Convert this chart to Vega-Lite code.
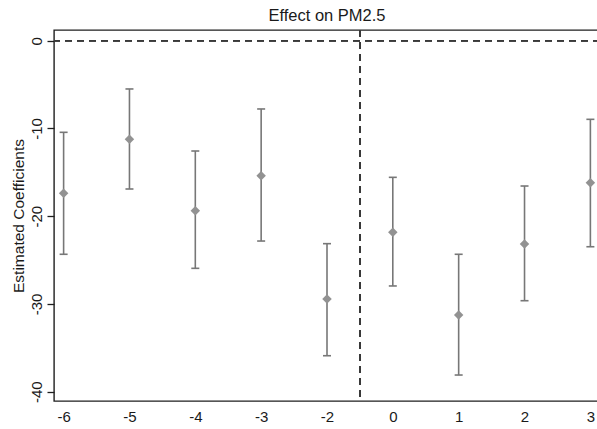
{
  "$schema": "https://vega.github.io/schema/vega-lite/v6.json",
  "autosize": {"type": "none"},
  "padding": {"left": 54, "top": 30, "right": 0, "bottom": 28},
  "width": 546,
  "height": 371,
  "background": "white",
  "config": {
    "font": "Liberation Sans",
    "view": {"stroke": "#1f1f1f", "strokeWidth": 1.4}
  },
  "title": {
    "text": "Effect on PM2.5",
    "fontSize": 16.5,
    "fontWeight": "normal",
    "color": "#1a1a1a",
    "anchor": "middle",
    "baseline": "alphabetic",
    "offset": 10,
    "dy": 18
  },
  "data": {
    "values": [
      {"period": -6, "coef": -17.39, "lo": -24.34, "hi": -10.44},
      {"period": -5, "coef": -11.24, "lo": -16.90, "hi": -5.50},
      {"period": -4, "coef": -19.37, "lo": -25.94, "hi": -12.57},
      {"period": -3, "coef": -15.38, "lo": -22.83, "hi": -7.78},
      {"period": -2, "coef": -29.44, "lo": -35.90, "hi": -23.13},
      {"period": 0, "coef": -21.84, "lo": -27.95, "hi": -15.57},
      {"period": 1, "coef": -31.26, "lo": -38.10, "hi": -24.34},
      {"period": 2, "coef": -23.17, "lo": -29.63, "hi": -16.56},
      {"period": 3, "coef": -16.18, "lo": -23.48, "hi": -8.96}
    ]
  },
  "encoding": {
    "x": {
      "field": "period",
      "type": "quantitative",
      "scale": {
        "domain": [-6.146, -2, 0, 3.146],
        "range": [0, 273.0, 338.8, 546],
        "nice": false,
        "zero": false
      },
      "axis": {
        "title": null,
        "values": [-6, -5, -4, -3, -2, 0, 1, 2, 3],
        "labelExpr": "replace(datum.label, '\u2212', '-')",
        "domain": false,
        "ticks": false,
        "tickSize": 0,
        "grid": false,
        "labelPadding": 8,
        "labelBaseline": "top",
        "labelFontSize": 15,
        "labelColor": "#1a1a1a",
        "labelFlush": false,
        "labelOverlap": false
      }
    },
    "y": {
      "type": "quantitative",
      "scale": {"domain": [-41.06, 1.22], "nice": false, "zero": false},
      "axis": {
        "title": "Estimated Coefficients",
        "titleFontSize": 15.5,
        "titleFontWeight": "normal",
        "titleColor": "#1a1a1a",
        "titleAngle": 270,
        "titleAlign": "center",
        "titleBaseline": "alphabetic",
        "titleX": -31,
        "titleY": 185.5,
        "values": [-40, -30, -20, -10, 0],
        "labelExpr": "replace(datum.label, '\u2212', '-')",
        "domain": false,
        "grid": false,
        "tickSize": 7,
        "tickColor": "#1f1f1f",
        "tickWidth": 1.3,
        "labelAngle": 270,
        "labelAlign": "center",
        "labelBaseline": "alphabetic",
        "labelPadding": 6,
        "labelFontSize": 15,
        "labelColor": "#1a1a1a",
        "labelFlush": false,
        "labelOverlap": false
      }
    }
  },
  "layer": [
    {
      "mark": {"type": "rule", "color": "#3a3a3a", "strokeWidth": 1.3, "strokeDash": [7, 5]},
      "encoding": {"y": {"datum": 0}, "x": null}
    },
    {
      "mark": {"type": "rule", "color": "#3a3a3a", "strokeWidth": 1.3, "strokeDash": [7, 5]},
      "encoding": {"x": {"datum": -1}, "y": null}
    },
    {
      "mark": {"type": "rule", "color": "#777777", "strokeWidth": 1.6},
      "encoding": {"y": {"field": "lo"}, "y2": {"field": "hi"}}
    },
    {
      "mark": {"type": "tick", "orient": "horizontal", "color": "#777777", "thickness": 1.6, "size": 8, "opacity": 1},
      "encoding": {"y": {"field": "lo"}}
    },
    {
      "mark": {"type": "tick", "orient": "horizontal", "color": "#777777", "thickness": 1.6, "size": 8, "opacity": 1},
      "encoding": {"y": {"field": "hi"}}
    },
    {
      "mark": {"type": "point", "shape": "diamond", "filled": true, "size": 90, "color": "#929292", "opacity": 1},
      "encoding": {"y": {"field": "coef"}}
    }
  ]
}
